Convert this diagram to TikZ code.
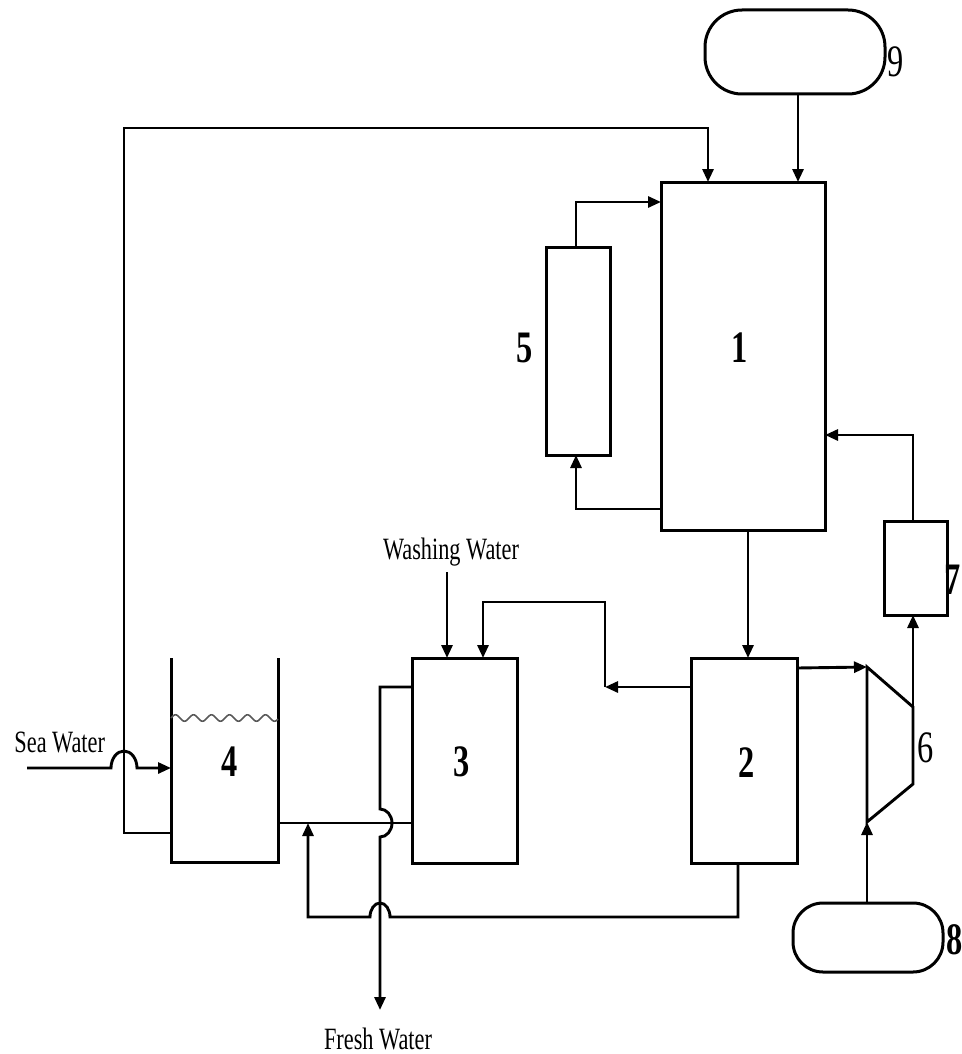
\documentclass[tikz,border=0pt]{standalone}
\usepackage{fontspec}
\setmainfont{Liberation Serif}[FakeStretch=0.72]
\usetikzlibrary{arrows.meta}
\begin{document}
\begin{tikzpicture}[x=1pt,y=1pt,
  line width=2.9pt,
  arr/.style={-{Triangle[length=13pt,width=11pt]}},
  unit/.style={draw,line width=3pt,inner sep=0pt,outer sep=0pt},
  tank/.style={draw,line width=3pt,inner sep=0pt,outer sep=0pt,rounded corners=#1},
  num/.style={inner sep=0pt,font=\fontsize{45}{48}\selectfont\bfseries},
  numr/.style={inner sep=0pt,font=\fontsize{45}{48}\selectfont},
  txt/.style={inner sep=0pt,font=\fontsize{31}{34}\selectfont}]
\useasboundingbox (0,0) rectangle (961,-1054);
% units
\node[unit,minimum width=164pt,minimum height=348pt] (b1) at (743,-356) {};
\node[unit,minimum width=106pt,minimum height=205pt] (b2) at (744,-760.5) {};
\node[unit,minimum width=105pt,minimum height=205pt] (b3) at (464.5,-760.5) {};
\node[inner sep=0pt,outer sep=0pt,minimum width=107pt,minimum height=204pt] (b4) at (224.5,-760) {};
\node[unit,minimum width=64pt,minimum height=208pt] (b5) at (578,-351) {};
\node[unit,minimum width=63pt,minimum height=94pt] (b7) at (915.5,-568) {};
\node[tank=30pt,minimum width=150pt,minimum height=69pt] (b8) at (868,-937.5) {};
\node[tank=37pt,minimum width=180pt,minimum height=84pt] (b9) at (795,-52) {};
% open tank 4
\draw[line width=3pt] (b4.north west) -- (b4.south west) -- (b4.south east) -- (b4.north east);
\draw[line width=1.6pt,gray!70!black] plot[domain=0:107,samples=120] ({171+\x},{-718+3.2*sin(20*\x)});
% turbine 6
\coordinate (t1) at (867,-667);
\coordinate (t2) at (913,-707);
\coordinate (t3) at (913,-784);
\coordinate (t4) at (867,-822);
\draw (t1) -- (t2) -- (t3) -- (t4) -- cycle;
% labels
\node[num] (l1) at (740,-348) {1};
\node[num] (l2) at (747,-763) {2};
\node[num] (l3) at (462,-762) {3};
\node[num] (l4) at (230,-762) {4};
\node[num] (l5) at (525,-348) {5};
\node[numr] (l6) at (926,-748) {6};
\node[num] (l7) at (953,-580) {7};
\node[num] (l8) at (955,-940) {8};
\node[numr] (l9) at (896,-62) {9};
\node[txt,anchor=base west] (sw) at (13,-752) {Sea Water};
\node[txt,anchor=base] (ww) at (451,-559) {Washing Water};
\node[txt,anchor=base] (fw) at (378,-1049) {Fresh Water};
% connectors
\draw[arr] (b9.south -| 798,0) -- (b1.north -| 798,0);
\draw[arr] (b4.west |- 0,-833) -- (124,-833) -- (124,-128) -- (708,-128) -- (b1.north -| 708,0);
\draw[arr] (b5.north -| 576,0) -- (576,-202) -- (b1.west |- 0,-202);
\draw[arr] (b1.west |- 0,-509) -- (576,-509) -- (b5.south -| 576,0);
\draw[arr] (b7.north -| 913,0) -- (913,-435) -- (b1.east |- 0,-435);
\draw[arr] (t2) -- (b7.south -| 913,0);
\draw[arr] (b1.south -| 748,0) -- (b2.north -| 748,0);
\draw[arr] (b2.east |- 0,-668) -- (t1);
\draw[arr] (b8.north -| t4) -- (t4);
\coordinate (c23) at (605,-687);
\draw[arr] (b2.west |- c23) -- (c23);
\draw[arr] (c23) -- (605,-602) -- (483,-602) -- (b3.north -| 483,0);
\coordinate (wwend) at (447,-572);
\draw[arr] (wwend) -- (b3.north -| wwend);
% sea water with hop
\draw[arr] (27,-768) -- (111,-768) arc[start angle=180,end angle=0,x radius=13pt,y radius=17pt] -- (b4.west |- 0,-768);
% 4 -> 3 line
\draw (b4.east |- 0,-823) -- (b3.west |- 0,-823);
% 3 -> fresh water with hops
\draw[arr] (b3.west |- 0,-687) -- (380,-687) -- (380,-809)
  arc[start angle=90,end angle=-90,x radius=12pt,y radius=14pt] -- (380,-1010);
% 2 bottom recycle with hop
\draw[arr] (b2.south -| 738,0) -- (738,-917) -- (390,-917)
  arc[start angle=0,end angle=180,x radius=10pt,y radius=14pt] -- (308,-917) -- (308,-823);
\end{tikzpicture}
\end{document}
